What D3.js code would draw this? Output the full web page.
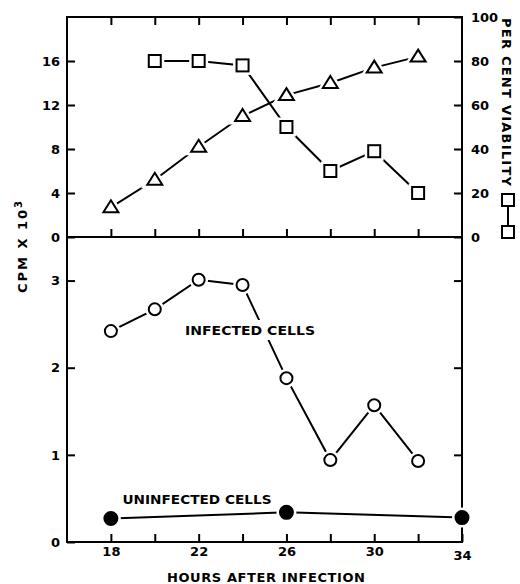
<!DOCTYPE html>
<html>
<head>
<meta charset="utf-8">
<script src="https://cdn.jsdelivr.net/npm/d3@7"></script>
<style>
  body { margin: 0; background: #fff; }
  text { font-family: "DejaVu Sans", sans-serif; font-weight: bold; fill: #000; }
</style>
</head>
<body>
<script>
// data
var hours = [18, 20, 22, 24, 26, 28, 30, 32];
var cpmTop = [2.7, 5.2, 8.2, 11.0, 12.9, 14.0, 15.4, 16.4];      // triangles, left axis
var viabHours = [20, 22, 24, 26, 28, 30, 32];
var viability = [80, 80, 78, 50, 30, 39, 20];                      // squares, right axis (%)
var infected = [2.42, 2.67, 3.01, 2.95, 1.88, 0.94, 1.57, 0.93];   // open circles
var uninfHours = [18, 26, 34];
var uninfected = [0.27, 0.34, 0.28];                               // filled circles

var xTicks = [18, 20, 22, 24, 26, 28, 30, 32, 34];
var xLabels = [18, 22, 26, 30, 34];
var topTicks = [0, 4, 8, 12, 16];
var pctTicks = [0, 20, 40, 60, 80, 100];
var botTicks = [0, 1, 2, 3];

var svg = d3.select("body").append("svg")
  .attr("width", 520)
  .attr("height", 584);

var x = d3.scaleLinear().domain([16, 34]).range([67, 462]);
var yTop = d3.scaleLinear().domain([0, 20]).range([237, 17]);
var yPct = d3.scaleLinear().domain([0, 100]).range([237, 17]);
var yBot = d3.scaleLinear().domain([0, 3.5]).range([542, 237]);

function styleAxis(g) {
  g.select(".domain").remove();
  g.selectAll(".tick line").attr("stroke", "#000").attr("stroke-width", 2);
  g.selectAll(".tick text").attr("font-size", 13).style("font-family", "DejaVu Sans").style("font-weight", "bold");
}

// frame
var x0 = x.range()[0], x1 = x.range()[1];
svg.append("rect")
  .attr("x", x0).attr("y", yTop.range()[1])
  .attr("width", x1 - x0).attr("height", yBot.range()[0] - yTop.range()[1])
  .attr("fill", "none").attr("stroke", "#000").attr("stroke-width", 2);
svg.append("line")
  .attr("x1", x0).attr("x2", x1)
  .attr("y1", yTop(0)).attr("y2", yTop(0))
  .attr("stroke", "#000").attr("stroke-width", 2);

// x axes (bottom, divider, top frame)
svg.append("g").attr("transform", "translate(0," + yBot(0) + ")")
  .call(d3.axisBottom(x).tickValues(xTicks).tickSize(-8).tickPadding(5)
    .tickFormat(function (d) { return xLabels.indexOf(d) >= 0 ? d : ""; }))
  .call(styleAxis)
  .selectAll(".tick text").attr("dy", function (d) { return d === 34 ? "1.0em" : "0.71em"; });

svg.append("g").attr("transform", "translate(0," + yTop(0) + ")")
  .call(d3.axisBottom(x).tickValues(xTicks.slice(0, -1)).tickSize(-8).tickFormat(""))
  .call(styleAxis);

svg.append("g").attr("transform", "translate(0," + yTop(20) + ")")
  .call(d3.axisTop(x).tickValues(xTicks.slice(0, -1)).tickSize(-8).tickFormat(""))
  .call(styleAxis);

// left axes
svg.append("g").attr("transform", "translate(" + x0 + ",0)")
  .call(d3.axisLeft(yTop).tickValues(topTicks).tickSize(-8).tickPadding(7).tickFormat(d3.format("d")))
  .call(styleAxis);
svg.append("g").attr("transform", "translate(" + x0 + ",0)")
  .call(d3.axisLeft(yBot).tickValues(botTicks).tickSize(-8).tickPadding(7).tickFormat(d3.format("d")))
  .call(styleAxis);

// right axes
svg.append("g").attr("transform", "translate(" + x1 + ",0)")
  .call(d3.axisRight(yPct).tickValues(pctTicks).tickSize(-8).tickPadding(9).tickFormat(d3.format("d")))
  .call(styleAxis);
svg.append("g").attr("transform", "translate(" + x1 + ",0)")
  .call(d3.axisRight(yBot).tickValues([1, 2, 3]).tickSize(-8).tickFormat(""))
  .call(styleAxis);

// lines
function drawLine(xs, ys, ysc) {
  var pts = xs.map(function (d, i) { return [x(d), ysc(ys[i])]; });
  svg.append("path")
    .attr("d", d3.line()(pts))
    .attr("fill", "none").attr("stroke", "#000").attr("stroke-width", 2);
  return pts;
}
var triPts = drawLine(hours, cpmTop, yTop);
var sqPts = drawLine(viabHours, viability, yPct);
var infPts = drawLine(hours, infected, yBot);
var unPts = drawLine(uninfHours, uninfected, yBot);

// labels with white background (cuts the line)
function label(txt, cx, cy, w) {
  svg.append("rect").attr("x", cx - w / 2 - 3).attr("y", cy - 10).attr("width", w + 6).attr("height", 20).attr("fill", "#fff");
  svg.append("text").attr("x", cx).attr("y", cy + 5).attr("text-anchor", "middle")
    .attr("font-size", 12).attr("textLength", w).attr("lengthAdjust", "spacingAndGlyphs")
    .text(txt);
}
label("INFECTED  CELLS", 250, 330, 130);
label("UNINFECTED  CELLS", 197, 499, 149);

// markers
var tri = "M0,-7L7.5,5L-7.5,5Z";
function markers(pts, kind) {
  [0, 1].forEach(function (pass) {
    var g = svg.append("g");
    var sel = g.selectAll("x").data(pts).enter();
    var m;
    if (kind === "tri") m = sel.append("path").attr("d", tri)
      .attr("transform", function (d) { return "translate(" + d[0] + "," + d[1] + ")"; });
    else if (kind === "sq") m = sel.append("rect").attr("width", 12).attr("height", 12)
      .attr("x", function (d) { return d[0] - 6; }).attr("y", function (d) { return d[1] - 6; });
    else m = sel.append("circle").attr("r", kind === "dot" ? 6.5 : 6)
      .attr("cx", function (d) { return d[0]; }).attr("cy", function (d) { return d[1]; });
    if (pass === 0) m.attr("fill", "#fff").attr("stroke", "#fff").attr("stroke-width", 7);
    else m.attr("fill", kind === "dot" ? "#000" : "#fff").attr("stroke", "#000").attr("stroke-width", 2);
  });
}
markers(triPts, "tri");
markers(sqPts, "sq");
markers(infPts, "circ");
markers(unPts, "dot");

// axis titles
var yl = svg.append("text")
  .attr("transform", "translate(27,246) rotate(-90)")
  .attr("text-anchor", "middle").attr("font-size", 13).attr("letter-spacing", 2);
yl.append("tspan").text("CPM X 10");
yl.append("tspan").attr("baseline-shift", "super").attr("font-size", 10).text("3");

svg.append("text")
  .attr("transform", "translate(502,18) rotate(90)")
  .attr("font-size", 13).attr("textLength", 168).attr("lengthAdjust", "spacing")
  .text("PER CENT VIABILITY");
// legend symbol □—□
var lx = 508;
svg.append("line").attr("x1", lx).attr("x2", lx).attr("y1", 200).attr("y2", 232)
  .attr("stroke", "#000").attr("stroke-width", 2);
[200, 232].forEach(function (cy) {
  svg.append("rect").attr("x", lx - 6).attr("y", cy - 6).attr("width", 12).attr("height", 12)
    .attr("fill", "#fff").attr("stroke", "#000").attr("stroke-width", 2);
});

svg.append("text")
  .attr("x", 266).attr("y", 582).attr("text-anchor", "middle")
  .attr("font-size", 13).attr("textLength", 198).attr("lengthAdjust", "spacing")
  .text("HOURS AFTER INFECTION");
</script>
</body>
</html>
